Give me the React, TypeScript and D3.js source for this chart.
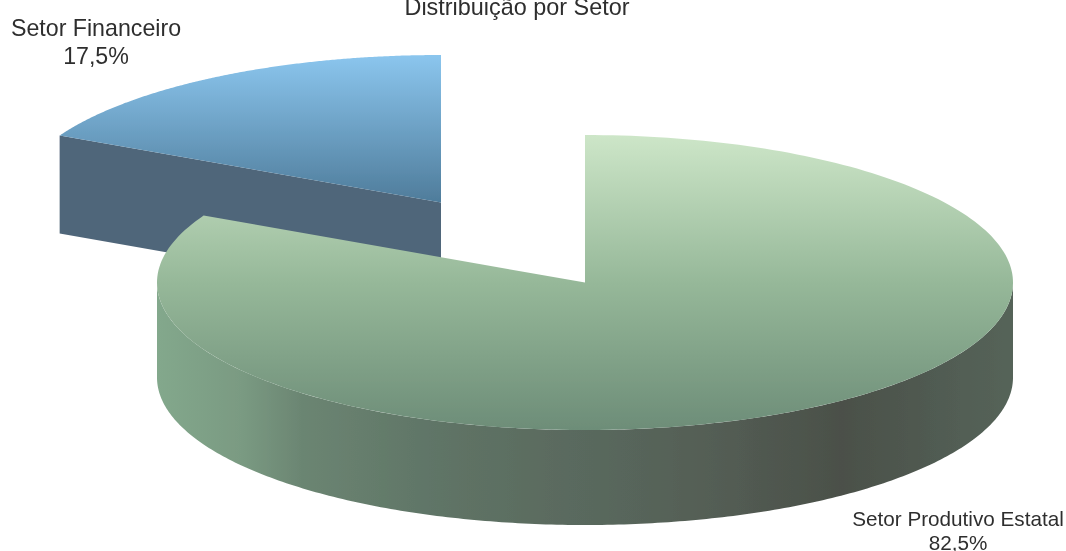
import React from "react";
import * as d3 from "d3";

const title = "Distribuição por Setor";
const categories = ["Setor Produtivo Estatal", "Setor Financeiro"];
const valueLabels = ["82,5%", "17,5%"];
const shares = [82.5, 17.5];

const W = 1066, H = 551;
const RX = 428, RY = 147.5;
const centers = [{ x: 585, y: 282.5, depth: 95 }, { x: 441, y: 202.5, depth: 98 }];

const pie = d3.pie<number>().sort(null).startAngle(0).endAngle(2 * Math.PI);
const arcs = pie(shares);

function ellipsePts(cx: number, cy: number, a0: number, a1: number) {
  const x = d3.scaleLinear().domain([-1, 1]).range([cx - RX, cx + RX]);
  const y = d3.scaleLinear().domain([-1, 1]).range([cy - RY, cy + RY]);
  const n = 240;
  return d3.range(n + 1).map((i) => {
    const a = a0 + ((a1 - a0) * i) / n;
    return [x(Math.sin(a)), y(-Math.cos(a))] as [number, number];
  });
}
const line = d3.line();

function topPath(i: number) {
  const c = centers[i];
  return line([[c.x, c.y], ...ellipsePts(c.x, c.y, arcs[i].startAngle, arcs[i].endAngle)])! + "Z";
}
function greenWall() {
  const c = centers[0];
  const top = ellipsePts(c.x, c.y, Math.PI / 2, Math.min(arcs[0].endAngle, 1.5 * Math.PI));
  const bottom = top.map(([x, y]) => [x, y + c.depth] as [number, number]).reverse();
  return line([...top, ...bottom])! + "Z";
}
function blueWall() {
  const c = centers[1];
  const edge = ellipsePts(c.x, c.y, arcs[1].startAngle, arcs[1].startAngle)[0];
  return line([edge, [c.x, c.y], [c.x, c.y + c.depth], [edge[0], edge[1] + c.depth]])! + "Z";
}

export default function App() {
  const font = "'Liberation Sans', Arial, sans-serif";
  const text = { fontFamily: font, fill: "#2f2f2f", textAnchor: "middle" as const };
  return (
    <svg width={W} height={H} style={{ position: "absolute", left: 0, top: 0 }}>
      <defs>
        <filter id="soft" x="0" y="0" width="100%" height="100%" filterUnits="userSpaceOnUse">
          <feGaussianBlur stdDeviation="0.45" />
        </filter>
        <linearGradient id="greenTop" gradientUnits="userSpaceOnUse" x1="0" y1="135" x2="0" y2="430">
          <stop offset="0" stopColor="#cde6c8" />
          <stop offset="0.5" stopColor="#96b899" />
          <stop offset="1" stopColor="#6d8d78" />
        </linearGradient>
        <linearGradient id="blueTop" gradientUnits="userSpaceOnUse" x1="0" y1="55" x2="0" y2="202">
          <stop offset="0" stopColor="#8bc6ee" />
          <stop offset="1" stopColor="#4f7c9b" />
        </linearGradient>
        <linearGradient id="greenSide" gradientUnits="userSpaceOnUse" x1="157" y1="0" x2="1013" y2="0">
          <stop offset="0" stopColor="#83a88c" />
          <stop offset="0.1" stopColor="#7a9a82" />
          <stop offset="0.17" stopColor="#6b8572" />
          <stop offset="0.33" stopColor="#5f7466" />
          <stop offset="0.6" stopColor="#566258" />
          <stop offset="0.8" stopColor="#4b5049" />
          <stop offset="1" stopColor="#556459" />
        </linearGradient>
      </defs>
      <g filter="url(#soft)">
        <path d={blueWall()} fill="#50667a" />
        <path d={topPath(1)} fill="url(#blueTop)" />
        <path d={greenWall()} fill="url(#greenSide)" />
        <path d={topPath(0)} fill="url(#greenTop)" />
        <text x={517} y={15} {...text} fontSize={23.4}>{title}</text>
        <text x={96} y={36} {...text} fontSize={23.2}>{categories[1]}</text>
        <text x={96} y={64} {...text} fontSize={23.2}>{valueLabels[1]}</text>
        <text x={958} y={526} {...text} fontSize={20.7}>{categories[0]}</text>
        <text x={958} y={550} {...text} fontSize={20.7}>{valueLabels[0]}</text>
      </g>
    </svg>
  );
}
